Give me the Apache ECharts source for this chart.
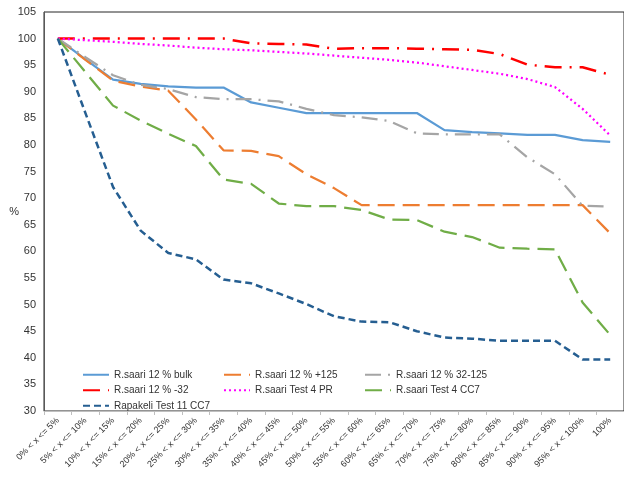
<!DOCTYPE html>
<html>
<head>
<meta charset="utf-8">
<script src="https://cdn.jsdelivr.net/npm/echarts@6/dist/echarts.min.js"></script>
<style>html,body{margin:0;padding:0;background:#fff;}#c{width:624px;height:490px;}</style>
</head>
<body>
<div id="c"></div>
<script>
var categories = ['0% < x <= 5%','5% < x <= 10%','10% < x <= 15%','15% < x <= 20%','20% < x <= 25%','25% < x <= 30%','30% < x <= 35%','35% < x <= 40%','40% < x <= 45%','45% < x <= 50%','50% < x <= 55%','55% < x <= 60%','60% < x <= 65%','65% < x <= 70%','70% < x <= 75%','75% < x <= 80%','80% < x <= 85%','85% < x <= 90%','90% < x <= 95%','95% < x < 100%','100%'];
var bulk   = [100, 96.1, 92.3, 91.5, 91.0, 90.8, 90.8, 88.0, 87.0, 86.0, 86.0, 86.0, 86.0, 86.0, 82.8, 82.4, 82.2, 81.9, 81.9, 80.9, 80.6];
var plus125 = [100, 96.0, 92.1, 91.0, 90.2, 84.8, 79.0, 78.9, 77.9, 74.5, 71.9, 68.7, 68.7, 68.7, 68.7, 68.7, 68.7, 68.7, 68.7, 68.7, 63.4];
var r32_125 = [100, 96.5, 93.1, 91.3, 90.5, 89.0, 88.6, 88.6, 88.2, 86.8, 85.6, 85.2, 84.5, 82.2, 82.0, 82.0, 82.0, 77.7, 74.5, 68.6, 68.4];
var minus32 = [100, 100, 100, 100, 100, 100, 100, 99.1, 99.0, 98.9, 98.1, 98.2, 98.2, 98.1, 98.0, 97.9, 97.1, 95.1, 94.6, 94.6, 93.2];
var test4PR = [100, 99.7, 99.4, 99.0, 98.7, 98.3, 98.0, 97.8, 97.5, 97.2, 96.8, 96.4, 96.0, 95.5, 94.8, 94.1, 93.4, 92.4, 90.9, 86.8, 81.8];
var test4CC7 = [100, 93.7, 87.4, 84.6, 82.1, 79.8, 73.5, 72.7, 69.0, 68.5, 68.5, 67.8, 66.0, 65.9, 63.7, 62.7, 60.7, 60.5, 60.4, 50.4, 44.3];
var rapakeli = [100, 86.0, 72.1, 63.9, 59.7, 58.5, 54.7, 54.0, 52.1, 50.1, 47.8, 46.8, 46.7, 45.0, 43.8, 43.6, 43.2, 43.2, 43.2, 39.7, 39.7];
var yTicks = {min: 30, max: 105, step: 5};

var FONT = 'Liberation Sans';
function mk(name, data, color, type, width) {
  return {
    name: name, type: 'line', data: data, symbol: 'none', showSymbol: false,
    lineStyle: {color: color, width: width, type: type, cap: 'butt'},
    itemStyle: {color: color}, emphasis: {disabled: true}
  };
}
var chart = echarts.init(document.getElementById('c'), null, {renderer: 'canvas'});
chart.setOption({
  animation: false,
  backgroundColor: '#fff',
  grid: {left: 44, right: -1, top: 12, bottom: 79, show: true, borderColor: '#262626', borderWidth: 1, backgroundColor: 'transparent'},
  legend: {
    left: 82, top: 367, width: 430, padding: 0, itemGap: 0, itemWidth: 26, itemHeight: 15,
    itemStyle: {opacity: 0},
    textStyle: {fontFamily: FONT, fontSize: 10, color: '#333', width: 109, lineHeight: 15.5, overflow: 'none', padding: [0, 0, 0, 0]},
    data: ['R.saari 12 % bulk','R.saari 12 % +125','R.saari 12 % 32-125','R.saari 12 % -32','R.saari Test 4 PR','R.saari Test 4 CC7','Rapakeli Test 11 CC7']
  },
  xAxis: {
    type: 'category', data: categories, boundaryGap: true,
    axisLine: {lineStyle: {color: '#bfbfbf', width: 1}},
    axisTick: {show: true, length: 4, lineStyle: {color: '#bfbfbf'}},
    axisLabel: {rotate: 45, interval: 0, fontFamily: FONT, fontSize: 9, color: '#333', margin: 8},
    splitLine: {show: false}
  },
  yAxis: {
    type: 'value', min: yTicks.min, max: yTicks.max, interval: yTicks.step,
    name: '%', nameLocation: 'middle', nameRotate: 0, nameGap: 25, nameMoveOverlap: false,
    nameTextStyle: {fontFamily: FONT, fontSize: 11, color: '#333'},
    axisLine: {show: true, lineStyle: {color: '#595959', width: 1}},
    axisTick: {show: false},
    axisLabel: {fontFamily: FONT, fontSize: 11, color: '#333', margin: 8},
    splitLine: {show: false}
  },
  series: [
    mk('R.saari 12 % bulk', bulk, '#5B9BD5', 'solid', 2.25),
    mk('R.saari 12 % +125', plus125, '#ED7D31', [17, 8], 2.25),
    mk('R.saari 12 % 32-125', r32_125, '#A5A5A5', [16, 7, 2, 7], 2.25),
    mk('R.saari 12 % -32', minus32, '#FF0000', [17, 8, 2, 8], 2.5),
    mk('R.saari Test 4 PR', test4PR, '#FF00FF', [2, 3], 2.25),
    mk('R.saari Test 4 CC7', test4CC7, '#70AD47', [17, 8], 2.25),
    mk('Rapakeli Test 11 CC7', rapakeli, '#255E91', [7, 4], 2.5)
  ]
});
</script>
</body>
</html>
